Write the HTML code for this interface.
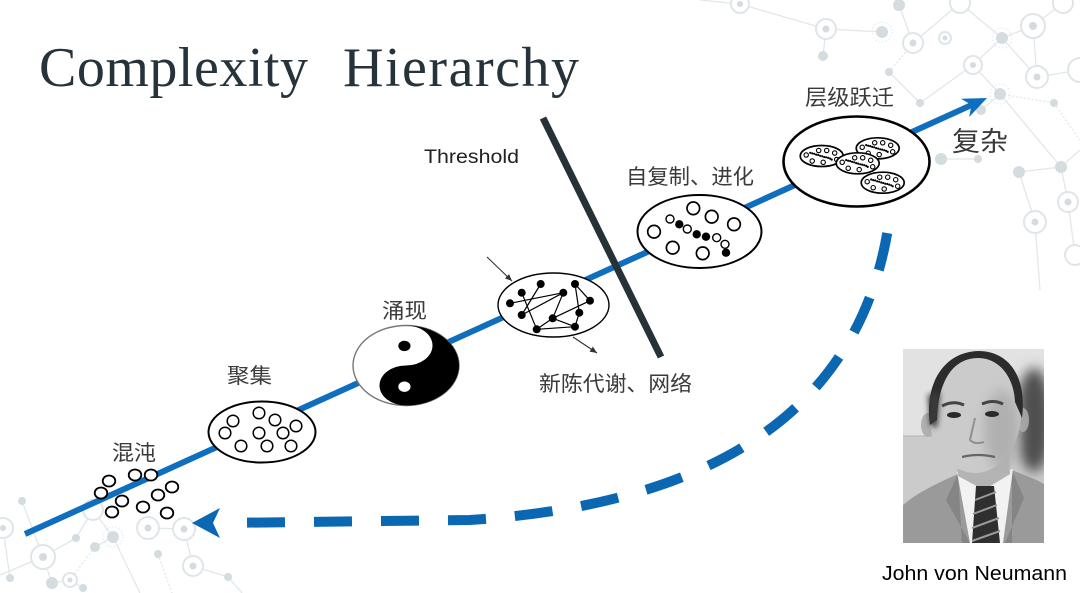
<!DOCTYPE html>
<html><head><meta charset="utf-8">
<style>
html,body{margin:0;padding:0;background:#fff;}
svg{display:block;}
</style></head>
<body>
<svg width="1080" height="593" viewBox="0 0 1080 593" xmlns="http://www.w3.org/2000/svg">
<defs>
  <marker id="ah" markerWidth="8" markerHeight="8" refX="7" refY="4" orient="auto" markerUnits="userSpaceOnUse">
    <path d="M0,1 L7,4 L0,7 Z" fill="#333"/>
  </marker>
  <clipPath id="pc"><rect x="903" y="349" width="141" height="194"/></clipPath>
  <filter id="bl" x="-50%" y="-50%" width="200%" height="200%"><feGaussianBlur stdDeviation="6"/></filter>
  <filter id="bl3" x="-50%" y="-50%" width="200%" height="200%"><feGaussianBlur stdDeviation="3"/></filter>
  <g id="cell">
    <ellipse rx="21.5" ry="10.5" fill="#fff" stroke="#000" stroke-width="1.7"/>
    <g fill="#fff" stroke="#000" stroke-width="1.1">
      <circle cx="-15.5" cy="-1" r="2.2"/>
      <circle cx="-3" cy="-5.5" r="2.2"/>
      <circle cx="5" cy="-5.5" r="2.2"/>
      <circle cx="13" cy="-3" r="2.2"/>
      <circle cx="-9.5" cy="5" r="2.2"/>
      <circle cx="1.5" cy="6.3" r="2.2"/>
      <circle cx="15" cy="3.5" r="2.2"/>
    </g>
    <g fill="#000">
      <circle cx="-11.5" cy="-3.2" r="1.1"/><circle cx="-9.5" cy="-2.6" r="1.1"/><circle cx="-7.5" cy="-2.2" r="1.1"/>
      <circle cx="-5.5" cy="-1.4" r="1.1"/><circle cx="-3.5" cy="-1" r="1.1"/><circle cx="-1.5" cy="-0.2" r="1.1"/>
      <circle cx="0.5" cy="0.3" r="1.1"/><circle cx="2.5" cy="1" r="1.1"/><circle cx="4.5" cy="1.3" r="1.1"/>
      <circle cx="6.5" cy="1.9" r="1.1"/><circle cx="8.5" cy="2.6" r="1.1"/><circle cx="10" cy="3.6" r="1.1"/>
    </g>
  </g>
</defs>

<rect width="1080" height="593" fill="#fff"/>

<!-- ===== background network pattern: top right ===== -->
<g stroke="#e1e7ea" stroke-width="1.3" fill="none">
  <line x1="700" y1="0" x2="740" y2="4"/>
  <line x1="740" y1="4" x2="826" y2="29"/>
  <line x1="826" y1="29" x2="882" y2="32"/>
  <line x1="826" y1="29" x2="823" y2="56"/>
  <line x1="899" y1="5" x2="913" y2="43"/>
  <line x1="913" y1="43" x2="960" y2="3"/>
  <line x1="913" y1="43" x2="889" y2="72" stroke-dasharray="2 2"/>
  <line x1="889" y1="72" x2="920" y2="103"/>
  <line x1="920" y1="103" x2="973" y2="65"/>
  <line x1="973" y1="65" x2="1002" y2="38"/>
  <line x1="973" y1="65" x2="1000" y2="94"/>
  <line x1="1002" y1="38" x2="1037" y2="77"/>
  <line x1="1033" y1="26" x2="1037" y2="77"/>
  <line x1="1002" y1="38" x2="1033" y2="26"/>
  <line x1="1033" y1="26" x2="1063" y2="3"/>
  <line x1="1037" y1="77" x2="1080" y2="70"/>
  <line x1="1000" y1="94" x2="1054" y2="103" stroke-dasharray="2 2"/>
  <line x1="1054" y1="103" x2="1080" y2="140" stroke-dasharray="2 2"/>
  <line x1="1000" y1="94" x2="981" y2="110"/>
  <line x1="1000" y1="94" x2="1061" y2="167"/>
  <line x1="941" y1="159" x2="978" y2="159"/>
  <line x1="1019" y1="172" x2="1061" y2="167"/>
  <line x1="1061" y1="167" x2="1068" y2="202"/>
  <line x1="1019" y1="172" x2="1035" y2="222"/>
  <line x1="1068" y1="202" x2="1075" y2="255"/>
  <line x1="1061" y1="167" x2="1080" y2="150"/>
  <line x1="1035" y1="222" x2="1040" y2="290"/>
  <line x1="960" y1="3" x2="1002" y2="38"/>
</g>
<g fill="#d4dce0">
  <circle cx="882" cy="32" r="6"/>
  <circle cx="823" cy="56" r="5"/>
  <circle cx="899" cy="5" r="6"/>
  <circle cx="1002" cy="38" r="6"/>
  <circle cx="889" cy="72" r="4"/>
  <circle cx="1000" cy="94" r="6"/>
  <circle cx="920" cy="103" r="4"/>
  <circle cx="1054" cy="103" r="4"/>
  <circle cx="981" cy="110" r="5"/>
  <circle cx="941" cy="159" r="6"/>
  <circle cx="978" cy="159" r="4"/>
  <circle cx="1019" cy="172" r="6"/>
  <circle cx="1061" cy="167" r="6"/>
</g>
<g fill="#fff" stroke="#dfe5e8" stroke-width="2">
  <circle cx="740" cy="4" r="9"/>
  <circle cx="826" cy="29" r="10"/>
  <circle cx="913" cy="43" r="10"/>
  <circle cx="945" cy="38" r="6"/>
  <circle cx="960" cy="3" r="10"/>
  <circle cx="1033" cy="26" r="12"/>
  <circle cx="1063" cy="3" r="10"/>
  <circle cx="1037" cy="77" r="11"/>
  <circle cx="1080" cy="70" r="12"/>
  <circle cx="973" cy="65" r="9"/>
  <circle cx="1068" cy="202" r="10"/>
  <circle cx="1035" cy="222" r="11"/>
  <circle cx="1075" cy="255" r="10"/>
</g>
<g fill="#d4dce0">
  <circle cx="740" cy="4" r="3"/><circle cx="826" cy="29" r="3.5"/><circle cx="913" cy="43" r="3.5"/>
  <circle cx="945" cy="38" r="2.5"/><circle cx="1033" cy="26" r="4"/><circle cx="1037" cy="77" r="3.5"/>
  <circle cx="973" cy="65" r="3"/><circle cx="1068" cy="202" r="3.5"/><circle cx="1035" cy="222" r="3.5"/>
</g>
<g fill="none" stroke="#e1e7ea" stroke-width="1" stroke-dasharray="1.5 2">
  <circle cx="882" cy="32" r="10"/><circle cx="1002" cy="38" r="10"/><circle cx="1000" cy="94" r="10"/>
</g>

<!-- ===== background network pattern: bottom left ===== -->
<g stroke="#e1e7ea" stroke-width="1.3" fill="none">
  <line x1="22" y1="501" x2="43" y2="557"/>
  <line x1="43" y1="557" x2="76" y2="538"/>
  <line x1="43" y1="557" x2="0" y2="575"/>
  <line x1="43" y1="557" x2="52" y2="583"/>
  <line x1="93" y1="510" x2="113" y2="537"/>
  <line x1="113" y1="537" x2="95" y2="547"/>
  <line x1="95" y1="547" x2="70" y2="580" stroke-dasharray="2 2"/>
  <line x1="148" y1="528" x2="184" y2="529"/>
  <line x1="184" y1="529" x2="193" y2="566"/>
  <line x1="193" y1="566" x2="228" y2="577"/>
  <line x1="158" y1="554" x2="172" y2="593" stroke-dasharray="2 2"/>
  <line x1="52" y1="583" x2="70" y2="580"/>
  <line x1="70" y1="580" x2="83" y2="588"/>
  <line x1="10" y1="578" x2="3" y2="528"/>
  <line x1="113" y1="537" x2="140" y2="593"/>
  <line x1="228" y1="577" x2="242" y2="593"/>
  <line x1="76" y1="538" x2="93" y2="510"/>
</g>
<g fill="#d4dce0">
  <circle cx="22" cy="501" r="4"/><circle cx="76" cy="538" r="4"/><circle cx="113" cy="537" r="6"/>
  <circle cx="95" cy="547" r="5"/><circle cx="158" cy="554" r="4"/><circle cx="228" cy="577" r="4"/>
  <circle cx="52" cy="583" r="6"/><circle cx="83" cy="588" r="4"/><circle cx="10" cy="578" r="4"/>
</g>
<g fill="#fff" stroke="#dfe5e8" stroke-width="2">
  <circle cx="3" cy="528" r="10"/><circle cx="43" cy="557" r="12"/><circle cx="93" cy="510" r="10"/>
  <circle cx="148" cy="528" r="11"/><circle cx="184" cy="529" r="11"/><circle cx="193" cy="566" r="10"/>
  <circle cx="70" cy="580" r="7"/>
</g>
<g fill="#d4dce0">
  <circle cx="3" cy="528" r="3"/><circle cx="43" cy="557" r="4"/><circle cx="148" cy="528" r="3.5"/>
  <circle cx="184" cy="529" r="3.5"/><circle cx="193" cy="566" r="3.5"/><circle cx="70" cy="580" r="2.5"/>
</g>
<g fill="none" stroke="#e1e7ea" stroke-width="1" stroke-dasharray="1.5 2">
  <circle cx="113" cy="537" r="10"/>
</g>

<!-- ===== title ===== -->
<text x="39" y="86" font-family="'Liberation Serif', serif" font-size="56" fill="#26333b" textLength="269" lengthAdjust="spacing">Complexity</text>
<text x="343" y="86" font-family="'Liberation Serif', serif" font-size="56" fill="#26333b" textLength="236" lengthAdjust="spacing">Hierarchy</text>

<!-- ===== main blue arrow ===== -->
<line x1="25" y1="534" x2="974.2" y2="103.8" stroke="#0f6ebd" stroke-width="6"/>
<polygon points="987,98 969.2,117 971.5,105 961,98.8" fill="#0f6ebd"/>

<!-- ===== dashed return arrow ===== -->
<path d="M218,523 L470,520 C700,505 860,420 889,222" stroke="#0b67b1" stroke-width="10" fill="none" stroke-dasharray="38 29" stroke-dashoffset="38"/>
<polygon points="192,523 220,508 213,523 220,538" fill="#0b67b1"/>

<!-- ===== threshold line ===== -->
<line x1="543" y1="118" x2="661" y2="357" stroke="#263238" stroke-width="7"/>
<text x="424" y="163" font-family="'Liberation Sans', sans-serif" font-size="19" fill="#222" textLength="95" lengthAdjust="spacingAndGlyphs">Threshold</text>

<!-- ===== chaos ===== -->
<g fill="#fff" stroke="#000" stroke-width="1.8">
  <ellipse cx="109" cy="481" rx="6.3" ry="5.5"/>
  <ellipse cx="135" cy="475" rx="6.3" ry="5.5"/>
  <ellipse cx="151" cy="475" rx="6.3" ry="5.5"/>
  <ellipse cx="101" cy="493" rx="6.3" ry="5.5"/>
  <ellipse cx="172" cy="487" rx="6.3" ry="5.5"/>
  <ellipse cx="158" cy="495" rx="6.3" ry="5.5"/>
  <ellipse cx="122" cy="501" rx="6.3" ry="5.5"/>
  <ellipse cx="112" cy="512" rx="6.3" ry="5.5"/>
  <ellipse cx="143" cy="507" rx="6.3" ry="5.5"/>
  <ellipse cx="167" cy="513" rx="6.3" ry="5.5"/>
</g>

<!-- ===== cluster ===== -->
<ellipse cx="262" cy="432" rx="53.5" ry="30.5" fill="#fff" stroke="#000" stroke-width="2"/>
<g fill="#fff" stroke="#000" stroke-width="1.5">
  <circle cx="233" cy="421" r="5.8"/><circle cx="259" cy="413" r="5.8"/><circle cx="275" cy="420" r="5.8"/>
  <circle cx="296" cy="426" r="5.8"/><circle cx="225" cy="433" r="5.8"/><circle cx="259" cy="433" r="5.8"/>
  <circle cx="283" cy="433" r="5.8"/><circle cx="241" cy="446" r="5.8"/><circle cx="267" cy="446" r="5.8"/>
  <circle cx="291" cy="446" r="5.8"/>
</g>

<!-- ===== yin-yang ===== -->
<ellipse cx="406" cy="365.5" rx="53" ry="40" fill="#fff" stroke="#777" stroke-width="1.4"/>
<g transform="translate(406,365.5) scale(53,40)">
  <path d="M0,-1 A1,1 0 0,1 0,1 A0.5,0.5 0 0,1 0,0 A0.5,0.5 0 0,0 0,-1 Z" fill="#000"/>
  <ellipse cx="-0.03" cy="-0.49" rx="0.115" ry="0.13" fill="#000"/>
  <ellipse cx="-0.03" cy="0.53" rx="0.115" ry="0.13" fill="#fff"/>
</g>

<!-- ===== network ===== -->
<line x1="487" y1="257" x2="512" y2="281" stroke="#333" stroke-width="1.1" marker-end="url(#ah)"/>
<line x1="573" y1="337" x2="597" y2="353" stroke="#333" stroke-width="1.1" marker-end="url(#ah)"/>
<ellipse cx="553.5" cy="305" rx="55.5" ry="32" fill="#fff" stroke="#000" stroke-width="1.4"/>
<g stroke="#000" stroke-width="1.2">
  <line x1="510" y1="303.3" x2="563.3" y2="292.7"/>
  <line x1="521.7" y1="315" x2="563.3" y2="292.7"/>
  <line x1="521.7" y1="292.7" x2="536.7" y2="329.3"/>
  <line x1="540.7" y1="284" x2="521.7" y2="315"/>
  <line x1="563.3" y1="292.7" x2="552.7" y2="318.3"/>
  <line x1="552.7" y1="318.3" x2="536.7" y2="329.3"/>
  <line x1="536.7" y1="329.3" x2="575" y2="326.7"/>
  <line x1="552.7" y1="318.3" x2="575" y2="326.7"/>
  <line x1="552.7" y1="318.3" x2="590" y2="300.7"/>
  <line x1="575" y1="284" x2="590" y2="300.7"/>
  <line x1="575" y1="284" x2="579.3" y2="312.7"/>
  <line x1="579.3" y1="312.7" x2="575" y2="326.7"/>
</g>
<g fill="#000">
  <circle cx="521.7" cy="292.7" r="4"/><circle cx="540.7" cy="284" r="4"/><circle cx="563.3" cy="292.7" r="4"/>
  <circle cx="575" cy="284" r="4"/><circle cx="510" cy="303.3" r="4"/><circle cx="590" cy="300.7" r="4"/>
  <circle cx="521.7" cy="315" r="4"/><circle cx="579.3" cy="312.7" r="4"/><circle cx="552.7" cy="318.3" r="4"/>
  <circle cx="536.7" cy="329.3" r="4"/><circle cx="575" cy="326.7" r="4"/>
</g>

<!-- ===== self-replication ===== -->
<ellipse cx="699.5" cy="231.5" rx="62" ry="36.5" fill="#fff" stroke="#000" stroke-width="2"/>
<g fill="#fff" stroke="#000" stroke-width="1.7">
  <circle cx="693.3" cy="208.3" r="6.3"/><circle cx="711.7" cy="216.7" r="6.3"/><circle cx="734" cy="224.3" r="6.3"/>
  <circle cx="654" cy="231.7" r="6.3"/><circle cx="672.7" cy="247.7" r="6.3"/><circle cx="702.7" cy="253.3" r="6.3"/>
</g>
<g fill="#fff" stroke="#000" stroke-width="1.4">
  <circle cx="670" cy="219" r="4"/><circle cx="687.3" cy="229" r="4"/><circle cx="716.7" cy="237.7" r="4"/>
  <circle cx="725" cy="244.3" r="4"/>
</g>
<g fill="#000">
  <circle cx="679.3" cy="224.3" r="4.2"/><circle cx="696.7" cy="234.3" r="4.2"/><circle cx="706" cy="236.7" r="4.2"/>
  <circle cx="726" cy="252.7" r="4.2"/>
</g>

<!-- ===== hierarchy ===== -->
<ellipse cx="856.5" cy="161.5" rx="73" ry="45" fill="#fff" stroke="#000" stroke-width="2.6"/>
<use href="#cell" transform="translate(821.7,156)"/>
<use href="#cell" transform="translate(877.7,148.3)"/>
<use href="#cell" transform="translate(882.7,182.7)"/>
<use href="#cell" transform="translate(857.7,163.3)"/>

<!-- ===== CJK labels ===== -->
<g font-family="'Liberation Sans','Noto Sans CJK SC',sans-serif" fill="#3a3a3a">
  <text x="112" y="460" font-size="21" textLength="44" lengthAdjust="spacingAndGlyphs">混沌</text>
  <text x="227" y="383" font-size="21" textLength="45" lengthAdjust="spacingAndGlyphs">聚集</text>
  <text x="382" y="318" font-size="21" textLength="45" lengthAdjust="spacingAndGlyphs">涌现</text>
  <text x="539" y="391" font-size="21" textLength="153" lengthAdjust="spacingAndGlyphs">新陈代谢、网络</text>
  <text x="626" y="184" font-size="21" textLength="128" lengthAdjust="spacingAndGlyphs">自复制、进化</text>
  <text x="805" y="105" font-size="21.5" textLength="89" lengthAdjust="spacingAndGlyphs">层级跃迁</text>
  <text x="952" y="151" font-size="27" textLength="56" lengthAdjust="spacingAndGlyphs">复杂</text>
</g>

<!-- ===== photo ===== -->
<g clip-path="url(#pc)">
  <rect x="903" y="349" width="141" height="194" fill="#e2e2e2"/>
  <rect x="903" y="436" width="141" height="107" fill="#cbcbcb"/>
  <line x1="903" y1="436" x2="1044" y2="436" stroke="#b5b5b5" stroke-width="1"/>
  <ellipse cx="1034" cy="420" rx="18" ry="52" fill="#505050" filter="url(#bl)"/>
  <!-- jacket -->
  <path d="M903,505 C918,492 940,482 958,474 L1012,470 C1026,476 1038,480 1044,484 L1044,543 L903,543 Z" fill="#9a9a9a"/>
  <path d="M958,474 L946,500 L970,543 L962,543 Z" fill="#858585"/>
  <path d="M1012,470 L1024,498 L1005,543 L1012,543 Z" fill="#858585"/>
  <!-- shirt -->
  <path d="M957,472 L1013,469 L1003,543 L970,543 Z" fill="#f2f2f2"/>
  <!-- neck -->
  <path d="M955,440 L1008,440 L1010,474 L984,490 L958,476 Z" fill="#b4b4b4"/>
  <!-- tie -->
  <path d="M976,486 L994,486 L1000,543 L972,543 Z" fill="#2f2f2f"/>
  <g stroke="#9a9a9a" stroke-width="2">
    <line x1="975" y1="500" x2="996" y2="492"/>
    <line x1="973" y1="514" x2="997" y2="505"/>
    <line x1="972" y1="528" x2="999" y2="518"/>
    <line x1="972" y1="541" x2="1000" y2="531"/>
  </g>
  <!-- head -->
  <ellipse cx="928" cy="425" rx="7" ry="12" fill="#b0b0b0"/>
  <ellipse cx="1023" cy="420" rx="6" ry="12" fill="#a0a0a0"/>
  <ellipse cx="975" cy="413" rx="46" ry="60" fill="#cbcbcb"/>
  <ellipse cx="1002" cy="430" rx="18" ry="40" fill="#b0b0b0" filter="url(#bl)"/>
  <path d="M930,425 C924,382 945,352 978,351 C1010,351 1027,378 1022,418 L1015,402 C1014,378 1000,358 978,358 C955,358 938,378 937,420 Z" fill="#2c2c2c"/>
  <path d="M930,425 L928,395 L940,392 L937,428 Z" fill="#3a3a3a" filter="url(#bl3)"/>
  <!-- brows, eyes -->
  <path d="M942,406 Q953,400 964,405" stroke="#444" stroke-width="3" fill="none"/>
  <path d="M982,404 Q993,399 1003,404" stroke="#444" stroke-width="3" fill="none"/>
  <ellipse cx="954" cy="415" rx="7" ry="3" fill="#2a2a2a"/>
  <ellipse cx="992" cy="414" rx="7" ry="3" fill="#2a2a2a"/>
  <path d="M975,418 L970,440 Q975,445 984,442" stroke="#909090" stroke-width="2" fill="none"/>
  <path d="M962,457 Q978,453 995,457" stroke="#666" stroke-width="2.2" fill="none"/>
</g>
<text x="882" y="580" font-family="'Liberation Sans', sans-serif" font-size="20" fill="#000" textLength="185" lengthAdjust="spacingAndGlyphs">John von Neumann</text>
</svg>
</body>
</html>
